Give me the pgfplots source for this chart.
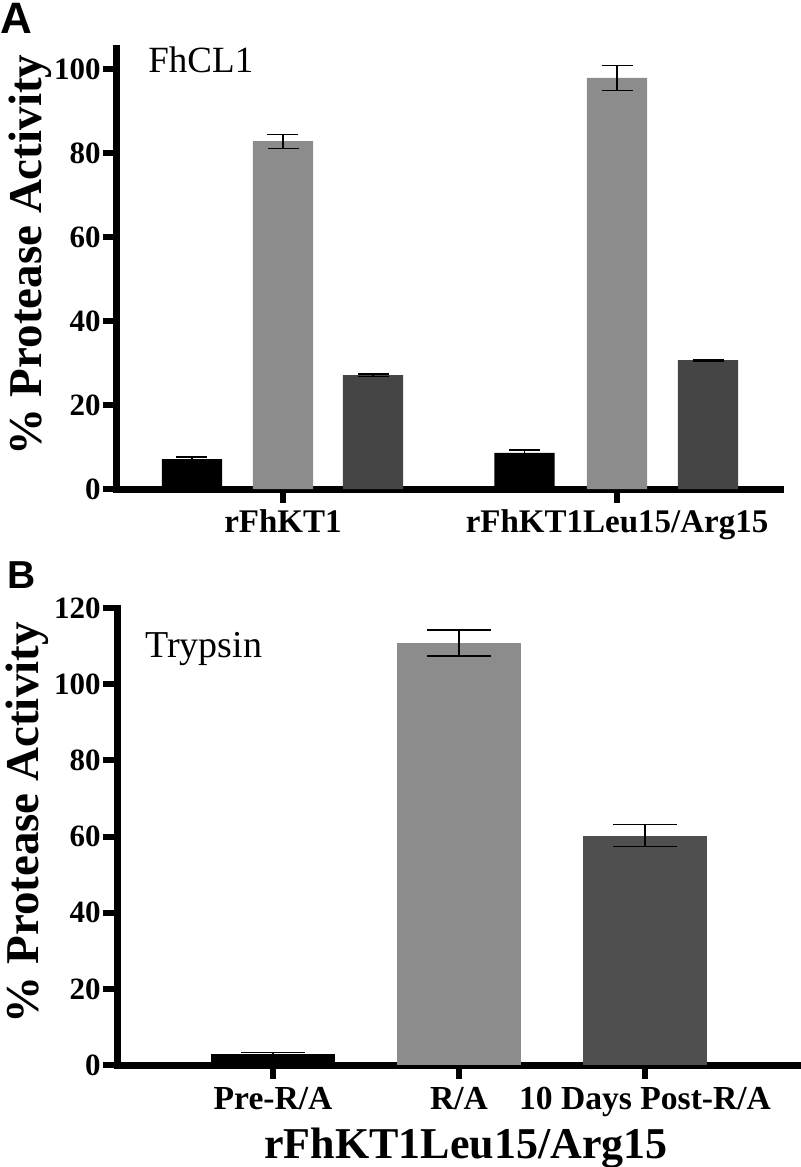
\documentclass[border=0pt]{standalone}
\usepackage{pgfplots}
\pgfplotsset{compat=1.18}
\usepackage{fontspec}
\setmainfont{Liberation Serif}
\newfontfamily\sansbf{Liberation Sans}[BoldFont={Liberation Sans Bold}]
\definecolor{barblack}{HTML}{000000}
\definecolor{bargray}{HTML}{8C8C8C}
\definecolor{bardarkA}{HTML}{454545}
\definecolor{bardarkB}{HTML}{4F4F4F}
\pgfplotsset{
  panel/.style={
    scale only axis,
    axis x line*=bottom, axis y line*=left,
    axis line style={line width=3.5pt, -, line cap=rect},
    tick align=outside,
    major tick length=7pt,
    tick style={line width=3pt, black},
    /pgf/number format/assume math mode=true,
    yticklabel style={font=\fontsize{15.5}{15.5}\selectfont\bfseries, inner sep=1pt},
    xticklabel style={anchor=base},
    every axis y label/.style={rotate=90, anchor=center, font=\fontsize{23.5}{23.5}\selectfont\bfseries},
  },
  errb/.style={
    error bars/.cd, y dir=both, y explicit,
    error bar style={line width=0.6pt, black},
    error mark options={rotate=90, mark size=#1, line width=0.6pt, black},
  },
}
\begin{document}
\begin{tikzpicture}
\useasboundingbox (0,0) rectangle (400pt,-583.5pt);
% Panel A
\begin{axis}[panel,
  at={(58.5pt,-244.5pt)}, anchor=south west,
  width=331.5pt, height=220.5pt,
  xmin=-0.497, xmax=1.488, ymin=0, ymax=105,
  ytick={0,20,40,60,80,100},
  xtick={0,1}, xticklabels={rFhKT1, rFhKT1Leu15/Arg15},
  xticklabel style={font=\fontsize{16.5}{16.5}\selectfont\bfseries, yshift=-14.5pt},
  ylabel={\% Protease Activity},
  every axis y label/.append style={at={(axis description cs:-0.131,0.53)}},
]
\addplot[ybar, bar width=0.18, bar shift=0pt, fill=barblack, draw=none, errb=7.75pt]
  coordinates {(-0.2725,7.1) +- (0,0.5) (0.7231,8.6) +- (0,0.7)};
\addplot[ybar, bar width=0.18, bar shift=0pt, fill=bargray, draw=none, errb=7.75pt]
  coordinates {(0,82.8) +- (0,1.7) (1,97.9) +- (0,3.0)};
\addplot[ybar, bar width=0.18, bar shift=0pt, fill=bardarkA, draw=none, errb=7.75pt]
  coordinates {(0.2695,27.1) +- (0,0.3) (1.2725,30.7) +- (0,0.2)};
\end{axis}
% Panel B
\begin{axis}[panel,
  at={(58.5pt,-532.5pt)}, anchor=south west,
  width=341.5pt, height=228.5pt,
  xmin=-0.839, xmax=2.833, ymin=0, ymax=120,
  ytick={0,20,40,60,80,100,120},
  xtick={0,1,2}, xticklabels={Pre-R/A, R/A, 10 Days Post-R/A},
  xticklabel style={font=\fontsize{16.8}{16.8}\selectfont\bfseries, yshift=-15pt},
  ylabel={\% Protease Activity},
  every axis y label/.append style={at={(axis description cs:-0.132,0.53)}},
  xlabel={rFhKT1Leu15/Arg15},
  every axis x label/.style={at={(axis description cs:0.511,0)}, anchor=base, yshift=-46.5pt, font=\fontsize{22}{22}\selectfont\bfseries},
]
\addplot[ybar, bar width=0.667, bar shift=0pt, fill=barblack, draw=none, errb=16pt]
  coordinates {(0,2.9) +- (0,0.3)};
\addplot[ybar, bar width=0.667, bar shift=0pt, fill=bargray, draw=none, errb=16pt]
  coordinates {(1,110.8) +- (0,3.4)};
\addplot[ybar, bar width=0.667, bar shift=0pt, fill=bardarkB, draw=none, errb=16pt]
  coordinates {(2,60.2) +- (0,2.9)};
\end{axis}
\node[anchor=base west, inner sep=0pt, font=\fontsize{18.5}{18.5}\selectfont] at (74pt,-36pt) {FhCL1};
\node[anchor=base west, inner sep=0pt, font=\fontsize{19}{19}\selectfont] at (72.5pt,-328.5pt) {Trypsin};
\node[anchor=base west, inner sep=0pt, font=\fontsize{22}{22}\selectfont\sansbf\bfseries] at (0pt,-16.5pt) {A};
\node[anchor=base west, inner sep=0pt, font=\fontsize{19.5}{19.5}\selectfont\sansbf\bfseries] at (3.5pt,-294pt) {B};
\end{tikzpicture}
\end{document}
